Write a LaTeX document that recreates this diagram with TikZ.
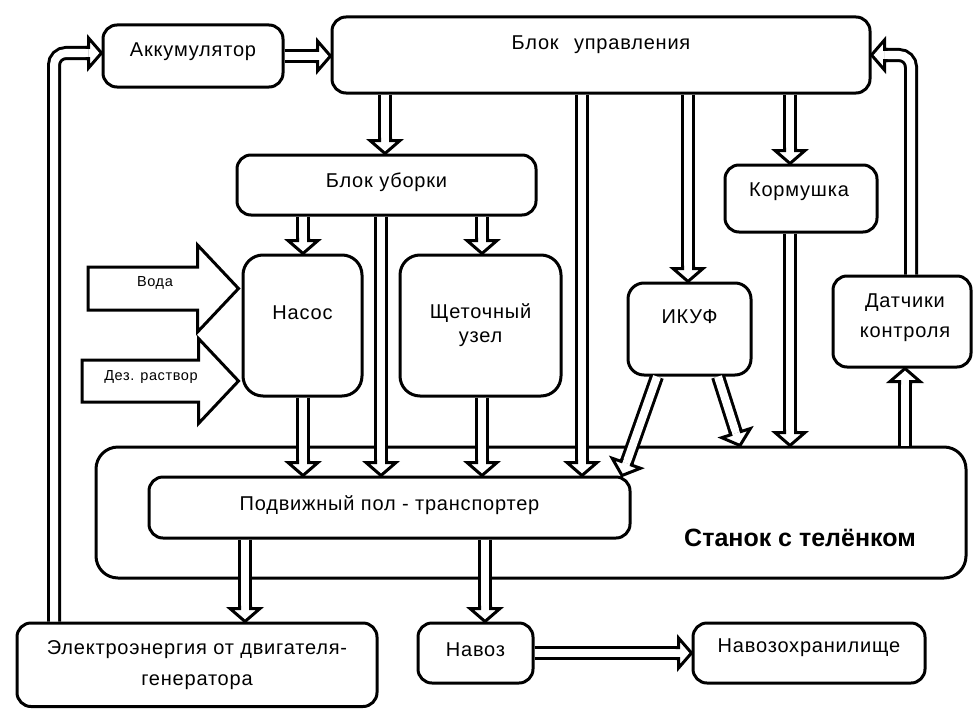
\documentclass[tikz,border=0pt]{standalone}
\usepackage{fontspec}
\setmainfont{Liberation Sans}[LetterSpace=4]
\newfontfamily\plainf{Liberation Sans}
\usetikzlibrary{calc}
\newcommand\arrsw{5.5pt}
\newcommand\arrhw{15pt}
\newcommand\arrhl{13pt}
\newcommand\arrhq{16pt}
% arrow head: #1 = point behind, #2 = tip
\newcommand\headat[2]{%
  \coordinate (hb) at ($(#2)!\arrhl!(#1)$);
  \coordinate (hq) at ($(#2)!\arrhq!(#1)$);
  \fill[white] ($(hb)!\arrsw!90:(#2)$) -- ($(hb)!\arrhw!90:(#2)$) -- (#2) -- ($(hb)!\arrhw!-90:(#2)$) -- ($(hb)!\arrsw!-90:(#2)$) -- cycle;
  \draw[arr] ($(hq)!\arrsw!90:(#2)$) -- ($(hb)!\arrsw!90:(#2)$) -- ($(hb)!\arrhw!90:(#2)$) -- (#2) -- ($(hb)!\arrhw!-90:(#2)$) -- ($(hb)!\arrsw!-90:(#2)$) -- ($(hq)!\arrsw!-90:(#2)$);
}
% straight hollow arrow
\newcommand\conn[2]{%
  \coordinate (ta) at (#1); \coordinate (tb) at (#2);
  \draw[shaft] (ta) -- ($(tb)!\arrhl!(ta)$);
  \headat{ta}{tb}
}
% L-shaped hollow arrow: start, corner, tip
\newcommand\lconn[3]{%
  \coordinate (ta) at (#1); \coordinate (tc) at (#2); \coordinate (tb) at (#3);
  \draw[shaft, rounded corners=12pt] (ta) -- (tc) -- ($(tb)!\arrhl!(tc)$);
  \headat{tc}{tb}
}
% big block arrow: tail, tip, shaft half, head half, head length
\newcommand\bigarr[5]{%
  \coordinate (ba) at (#1); \coordinate (bb) at (#2);
  \coordinate (bc) at ($(bb)!#5pt!(ba)$);
  \draw[arr, fill=white] ($(ba)!#3pt!90:(bb)$) -- ($(bc)!#3pt!90:(bb)$) -- ($(bc)!#4pt!90:(bb)$) -- (bb) -- ($(bc)!#4pt!-90:(bb)$) -- ($(bc)!#3pt!-90:(bb)$) -- ($(ba)!#3pt!-90:(bb)$) -- cycle;
}
\begin{document}
\begin{tikzpicture}[x=1pt,y=-1pt,
  box/.style={draw, line width=3pt, rounded corners=14pt, fill=white, inner sep=0pt},
  txt/.style={font=\fontsize{20}{24}\selectfont, align=center, inner sep=0pt},
  small/.style={font=\fontsize{14.5}{17}\selectfont, inner sep=0pt},
  shaft/.style={line width=3pt, double=white, double distance=8pt},
  arr/.style={line width=3pt, line join=miter},
]
\fill[white] (0,0) rectangle (973,709);
\useasboundingbox (0,0) rectangle (973,709);

% stall
\node[box, rounded corners=22pt, minimum width=870pt, minimum height=131pt] (st) at (531,512.5) {};
\node[txt, font=\plainf\bfseries\fontsize{25}{30}\selectfont] (st-t) at (800,538) {Станок с телёнком};

% boxes
\node[box, minimum width=180pt, minimum height=62pt] (ak) at (193,56) {};
\node[txt] (ak-t) at ([yshift=4pt]ak.center) {Аккумулятор};
\node[box, minimum width=538pt, minimum height=76pt] (bu) at (601,55) {};
\node[txt] (bu-t) at ([yshift=10pt]bu.center) {Блок\hspace{0.45em} управления};
\node[box, minimum width=299pt, minimum height=60pt] (bub) at (386.5,185) {};
\node[txt] (bub-t) at ([yshift=3pt]bub.center) {Блок уборки};
\node[box, minimum width=152pt, minimum height=67pt] (korm) at (801,198.5) {};
\node[txt] (korm-t) at ([xshift=-2pt,yshift=6.5pt]korm.center) {Кормушка};
\node[box, rounded corners=20pt, minimum width=119pt, minimum height=141pt] (nas) at (302.5,325.5) {};
\node[txt] (nas-t) at ([yshift=13pt]nas.center) {Насос};
\node[box, rounded corners=20pt, minimum width=161pt, minimum height=141pt] (sch) at (480.5,325.5) {};
\node[txt] (sch-t) at (sch.center) {Щеточный\\узел};
\node[box, rounded corners=16pt, minimum width=123pt, minimum height=92pt] (ikuf) at (689.5,329) {};
\node[txt] (ikuf-t) at ([yshift=12pt]ikuf.center) {ИКУФ};
\node[box, minimum width=138pt, minimum height=91pt] (dat) at (902,321.5) {};
\node[txt] (dat-t) at ([xshift=3pt,yshift=3.5pt]dat.center) {Датчики\\[6pt]контроля};
\node[box, minimum width=481pt, minimum height=61pt] (pol) at (389.5,507.5) {};
\node[txt] (pol-t) at ([yshift=2.5pt]pol.center) {Подвижный пол - транспортер};
\node[box, minimum width=360pt, minimum height=83.5pt] (el) at (197,664.75) {};
\node[txt] (el-t) at (el.center) {Электроэнергия от двигателя-\\[7pt]генератора};
\node[box, minimum width=115pt, minimum height=60pt] (nav) at (475.5,653) {};
\node[txt] (nav-t) at ([yshift=3pt]nav.center) {Навоз};
\node[box, minimum width=232pt, minimum height=60pt] (navh) at (809,653) {};
\node[txt] (navh-t) at ([yshift=5pt]navh.center) {Навозохранилище};

% helper columns
\coordinate (x54) at (54,0);
\coordinate (x245) at (245,0);
\coordinate (x303) at (303,0);
\coordinate (x381) at (381,0);
\coordinate (x385) at (385,0);
\coordinate (x482) at (482,0);
\coordinate (x485) at (485,0);
\coordinate (x582) at (582,0);
\coordinate (x622) at (622,0);
\coordinate (x657) at (657,0);
\coordinate (x688) at (688,0);
\coordinate (x718) at (718,0);
\coordinate (x740) at (740,0);
\coordinate (x790) at (790,0);
\coordinate (x905) at (905,0);
\coordinate (x911) at (911,0);

% connectors
\conn{ak.east}{ak.east -| bu.west}
\conn{x385 |- bu.south}{x385 |- bub.north}
\conn{x582 |- bu.south}{x582 |- pol.north}
\conn{x688 |- bu.south}{x688 |- ikuf.north}
\conn{x790 |- bu.south}{x790 |- korm.north}
\conn{x790 |- korm.south}{x790 |- st.north}
\conn{x905 |- st.north}{x905 |- dat.south}
\lconn{x911 |- dat.north}{x911 |- bu.east}{bu.east}
\conn{x303 |- bub.south}{x303 |- nas.north}
\conn{x381 |- bub.south}{x381 |- pol.north}
\conn{x482 |- bub.south}{x482 |- sch.north}
\conn{x303 |- nas.south}{x303 |- pol.north}
\conn{x482 |- sch.south}{x482 |- pol.north}
\conn{x657 |- ikuf.south}{x622 |- pol.north}
\conn{x718 |- ikuf.south}{x740 |- st.north}
\conn{x245 |- pol.south}{x245 |- el.north}
\conn{x485 |- pol.south}{x485 |- nav.north}
\conn{nav.east}{navh.west}
\coordinate (akin) at ([yshift=3pt]ak.west);
\lconn{x54 |- el.north}{x54 |- akin}{akin}

% inputs to pump
\coordinate (voda) at (88,288.5);
\coordinate (vodatip) at ($(voda -| nas.west)+(-3,0)$);
\bigarr{voda}{vodatip}{21.5}{43.5}{41}
\node[small] (voda-t) at (155,283) {Вода};
\coordinate (dez) at (82,381);
\coordinate (deztip) at ($(dez -| nas.west)+(-3,0)$);
\bigarr{dez}{deztip}{21}{42.5}{40}
\node[small] (dez-t) at (151,377) {Дез. раствор};
\end{tikzpicture}
\end{document}
